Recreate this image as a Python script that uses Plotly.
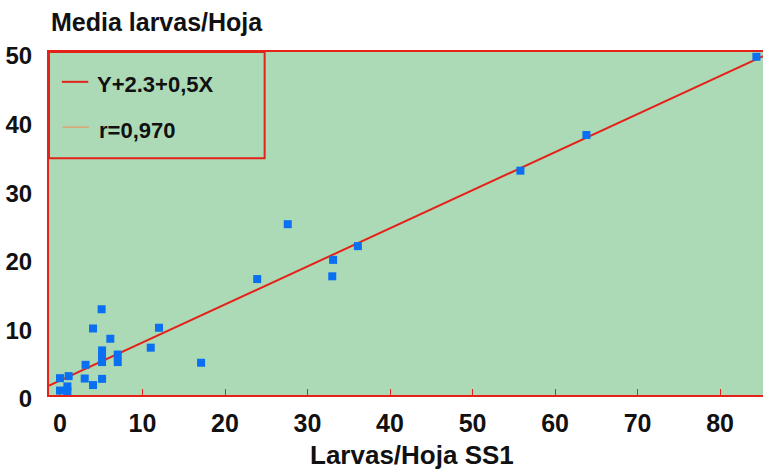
import plotly.graph_objects as go

# Data
larvas_ss1 = [84.4, 63.8, 55.8, 36.1, 33.1, 33.0, 27.6, 23.9, 17.1, 12.0, 11.0,
              5.05, 4.0, 6.1, 5.1, 5.1, 5.1, 7.0, 7.0, 3.1, 3.0, 4.0, 5.1,
              1.05, 0.0, 0.0, 0.9, 0.9]
media_larvas = [49.3, 37.9, 32.7, 21.7, 19.7, 17.3, 24.9, 16.9, 4.7, 9.8, 6.9,
                12.5, 9.7, 8.2, 6.5, 5.5, 4.8, 5.9, 4.8, 4.4, 2.4, 1.45, 2.35,
                2.75, 2.45, 0.65, 1.25, 0.55]
fit_intercept = 2.1
fit_slope = 0.555
fit_x = [-1.33, 85.2]
fit_y = [fit_intercept + fit_slope * v for v in fit_x]

x_ticks = [0, 10, 20, 30, 40, 50, 60, 70, 80]
y_ticks = [0, 10, 20, 30, 40, 50]

FONT = "Liberation Sans, Arial, sans-serif"
RED = "#e4221a"

fig = go.Figure()
fig.add_trace(go.Scatter(x=fit_x, y=fit_y, mode="lines",
                         line=dict(color=RED, width=2), hoverinfo="skip"))
fig.add_trace(go.Scatter(x=larvas_ss1, y=media_larvas, mode="markers",
                         marker=dict(symbol="square", size=8, color="#0a6ff0",
                                     line=dict(width=0))))

# legend box
fig.add_shape(type="rect", xref="paper", yref="paper", x0=0, x1=0.302, y0=0.69, y1=1,
              line=dict(color=RED, width=2), fillcolor="rgba(0,0,0,0)")
fig.add_shape(type="line", xref="paper", yref="paper", x0=0.018, x1=0.055, y0=0.913, y1=0.913,
              line=dict(color=RED, width=2))
fig.add_shape(type="line", xref="paper", yref="paper", x0=0.019, x1=0.056, y0=0.781, y1=0.781,
              line=dict(color="#f08a50", width=1))
fig.add_annotation(xref="paper", yref="paper", x=0.064, y=0.905, text="<b>Y+2.3+0,5X</b>",
                   showarrow=False, xanchor="left", yanchor="middle",
                   font=dict(family=FONT, size=22, color="#111"))
fig.add_annotation(xref="paper", yref="paper", x=0.067, y=0.770, text="<b>r=0,970</b>",
                   showarrow=False, xanchor="left", yanchor="middle",
                   font=dict(family=FONT, size=22, color="#111"))
fig.add_annotation(xref="paper", yref="paper", x=0.0, y=1.0, yshift=30, text="<b>Media larvas/Hoja</b>",
                   showarrow=False, xanchor="left", yanchor="middle",
                   font=dict(family=FONT, size=25, color="#111"))
fig.add_annotation(xref="paper", yref="paper", x=0.508, y=0.0, yshift=-60, text="<b>Larvas/Hoja SS1</b>",
                   showarrow=False, xanchor="center", yanchor="middle",
                   font=dict(family=FONT, size=26, color="#111"))

fig.update_layout(
    width=763, height=475,
    margin=dict(l=49, r=0, t=52, b=80),
    paper_bgcolor="white", plot_bgcolor="#acdab7",
    showlegend=False,
    xaxis=dict(range=[-1.33, 85.2], tickvals=x_ticks, showgrid=False, zeroline=False,
               showline=True, linecolor=RED, linewidth=2, mirror=True,
               ticks="inside", ticklen=6, tickcolor=RED, tickwidth=1,
               ticklabelstandoff=5,
               tickfont=dict(family=FONT, size=25, color="#111", weight="bold")),
    yaxis=dict(range=[0, 50], tickvals=y_ticks, showgrid=False, zeroline=False,
               showline=True, linecolor=RED, linewidth=2, ticks="",
               ticklabelstandoff=10, ticklabelshift=4,
               tickfont=dict(family=FONT, size=24, color="#111", weight="bold")),
)
fig.write_html("out.html")
